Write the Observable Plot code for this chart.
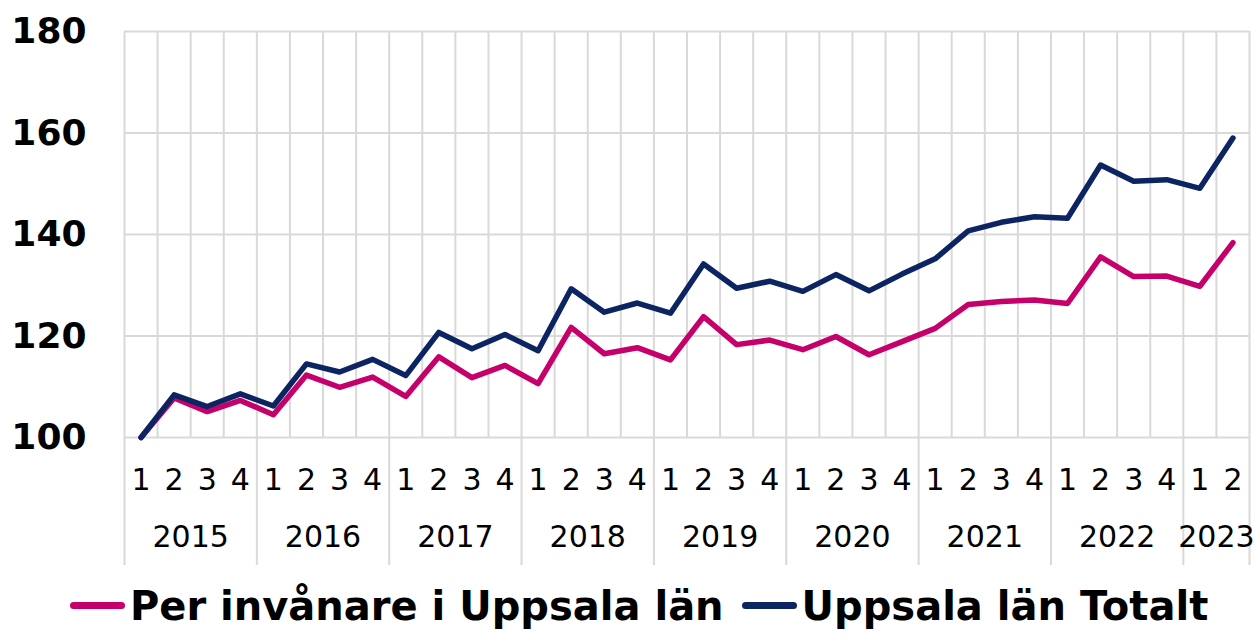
<!DOCTYPE html>
<html>
<head>
<meta charset="utf-8">
<script src="https://cdn.jsdelivr.net/npm/d3@7"></script>
<script src="https://cdn.jsdelivr.net/npm/@observablehq/plot@0.6"></script>
<style>
  html, body { margin: 0; padding: 0; background: #fff; }
  #chart { width: 1255px; }
  .legend { display: flex; align-items: center; height: 71px; padding-left: 70px; font-family: "DejaVu Sans", sans-serif; font-weight: bold; font-size: 40px; color: #000; }
  .legend .item { display: flex; align-items: center; margin-right: 18px; }
  .legend .sw { width: 55px; height: 7px; border-radius: 4px; margin-right: 5px; }
</style>
</head>
<body>
<div id="chart"></div>
<script>
const years = ["2015","2015","2015","2015","2016","2016","2016","2016","2017","2017","2017","2017","2018","2018","2018","2018","2019","2019","2019","2019","2020","2020","2020","2020","2021","2021","2021","2021","2022","2022","2022","2022","2023","2023"];
const quarterLabels = ["1","2","3","4","1","2","3","4","1","2","3","4","1","2","3","4","1","2","3","4","1","2","3","4","1","2","3","4","1","2","3","4","1","2"];
const perCapita = [100,107.8,105.1,107.3,104.5,112.3,109.9,111.9,108.1,115.9,111.8,114.2,110.6,121.7,116.5,117.7,115.3,123.8,118.3,119.2,117.3,119.9,116.3,118.9,121.5,126.2,126.8,127.1,126.4,135.6,131.7,131.8,129.8,138.4];
const total = [100,108.4,106.1,108.6,106.2,114.5,112.9,115.4,112.2,120.7,117.5,120.3,117.1,129.3,124.7,126.5,124.5,134.2,129.4,130.8,128.8,132.1,128.9,132.2,135.2,140.7,142.4,143.5,143.2,153.7,150.5,150.8,149.1,159.0];
const seriesNames = ["Per invånare i Uppsala län", "Uppsala län Totalt"];
const seriesColors = ["#C6006A", "#0C2461"];
const yTicks = [100, 120, 140, 160, 180];

const n = quarterLabels.length;
const rows = [];
perCapita.forEach((v, i) => rows.push({i: i + 0.5, v, s: seriesNames[0]}));
total.forEach((v, i) => rows.push({i: i + 0.5, v, s: seriesNames[1]}));

const uniqueYears = Array.from(new Set(years));
const yearCenters = uniqueYears.map(y => d3.mean(years.map((yy, i) => yy === y ? i + 0.5 : null).filter(d => d !== null)));
const yearBounds = [0];
uniqueYears.forEach(y => yearBounds.push(years.lastIndexOf(y) + 1));
const gridX = d3.range(n + 1);

const grid = "#d9d9d9";

const chart = Plot.plot({
  width: 1255,
  height: 570,
  marginLeft: 124,
  marginRight: 6,
  marginTop: 31,
  marginBottom: 133,
  style: {fontFamily: "DejaVu Sans, sans-serif", fontSize: "30px", color: "#000", background: "#fff", overflow: "visible"},
  x: {type: "linear", domain: [0, n]},
  y: {domain: [100, 180]},
  color: {domain: seriesNames, range: seriesColors},
  marks: [
    Plot.gridY(yTicks, {stroke: grid, strokeOpacity: 1, strokeWidth: 2}),
    Plot.gridX(gridX, {stroke: grid, strokeOpacity: 1, strokeWidth: 2}),
    Plot.axisY(yTicks, {tickSize: 0, tickPadding: 38, fontSize: 36, fontWeight: "bold", label: null}),
    Plot.axisX(gridX.filter(d => yearBounds.includes(d)), {tickSize: 128, stroke: grid, strokeWidth: 2, strokeOpacity: 1, tickFormat: () => "", label: null}),
    Plot.axisX(d3.range(n).map(i => i + 0.5), {tickSize: 0, tickPadding: 31, tickFormat: d => quarterLabels[Math.floor(d)], fontSize: 30, label: null}),
    Plot.axisX(yearCenters, {tickSize: 0, tickPadding: 88, tickFormat: (d, k) => uniqueYears[k], fontSize: 30, label: null}),
    Plot.line(rows, {x: "i", y: "v", z: "s", stroke: "s", strokeWidth: 5.5, strokeLinejoin: "round", strokeLinecap: "round"})
  ]
});
document.getElementById("chart").appendChild(chart);

const legend = document.createElement("div");
legend.className = "legend";
seriesNames.forEach((name, k) => {
  const item = document.createElement("div");
  item.className = "item";
  const sw = document.createElement("span");
  sw.className = "sw";
  sw.style.background = seriesColors[k];
  const t = document.createElement("span");
  t.textContent = name;
  item.appendChild(sw);
  item.appendChild(t);
  legend.appendChild(item);
});
document.getElementById("chart").appendChild(legend);
</script>
</body>
</html>
